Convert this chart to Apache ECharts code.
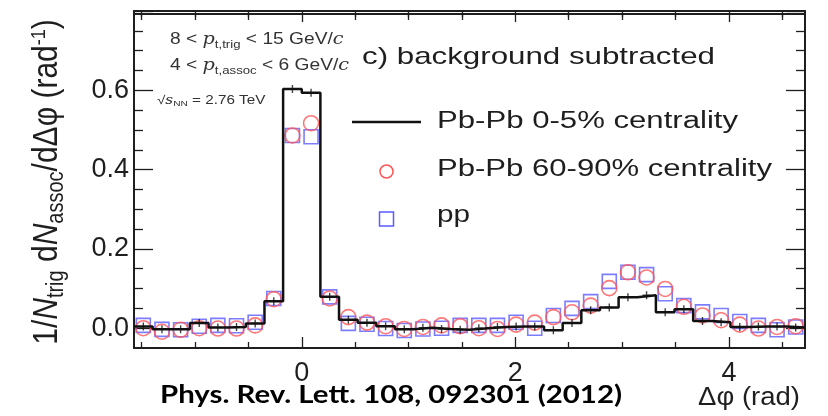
<!DOCTYPE html>
<html><head><meta charset="utf-8">
<script src="https://cdn.jsdelivr.net/npm/echarts@6/dist/echarts.min.js"></script>
<style>html,body{margin:0;padding:0;background:#fff}#c{width:828px;height:416px}</style>
</head><body><div id="c"></div>
<script>
// ---- data (36 bins of Δφ, from -π/2 to 3π/2) ----
const nBins = 36;
const xRangeMin = -Math.PI / 2;
const xRangeMax = 3 * Math.PI / 2;
const central05 = [0.004,-0.003,-0.003,0.013,0.002,0.003,0.012,0.068,0.603,0.594,
  0.079,0.021,0.014,0.005,-0.003,0.001,-0.002,-0.004,0.000,0.003,
  0.004,0.004,-0.005,0.013,0.045,0.052,0.078,0.083,0.040,0.048,
  0.018,0.015,0.003,0.004,0.004,0.002];
const periph6090 = [0.000,-0.009,-0.004,0.000,-0.001,-0.001,0.007,0.073,0.486,0.517,
  0.075,0.028,0.014,0.005,-0.002,0.003,0.007,0.005,0.000,-0.002,
  0.009,0.014,0.028,0.040,0.057,0.101,0.141,0.128,0.099,0.054,
  0.032,0.020,0.009,-0.001,0.003,0.005];
const ppData = [0.007,-0.003,-0.004,0.005,0.007,0.006,0.015,0.075,0.486,0.483,
  0.079,0.012,0.010,-0.001,-0.006,-0.002,0.000,0.007,0.007,0.007,
  0.015,0.000,0.032,0.050,0.067,0.118,0.141,0.135,0.087,0.057,
  0.041,0.032,0.017,0.007,-0.004,0.003];
const xTickLabels = [0, 2, 4];
const yTickLabels = [0, 0.2, 0.4, 0.6];
const legendNames = ['Pb-Pb 0-5% centrality', 'Pb-Pb 60-90% centrality', 'pp'];

// ---- derived ----
const binW = (xRangeMax - xRangeMin) / nBins;
const centers = [], histLine = [];
for (let i = 0; i < nBins; i++) {
  const lo = xRangeMin + i * binW, hi = lo + binW;
  centers.push(lo + binW / 2);
  histLine.push([lo, central05[i]], [hi, central05[i]]);
}
const pts = arr => arr.map((v, i) => [centers[i], v]);
const xMinor = [], yMinor = [];
for (let v = -1.5; v <= 4.6; v += 0.5) { const r = Math.round(v * 10) / 10; if (r % 2 !== 0) xMinor.push(r); }
for (let k = 1; k < 16; k++) { const r = Math.round(k * 5) / 100; if (Math.round(r * 100) % 20 !== 0) yMinor.push(r); }
const yMajorTicks = yTickLabels.concat([0.8]);

const cv = document.createElement('canvas').getContext('2d');
function fit(text, font, w) { cv.font = font; return w / cv.measureText(text).width; }

const AX = '#1e1e1e';
const FF = '"Liberation Sans", Arial, sans-serif';
function xAx(pos, major, withLine, withLabel, offset) {
  return {type: 'value', min: xRangeMin, max: xRangeMax, position: pos, offset: offset || 0,
    axisLine: {show: withLine, onZero: false, lineStyle: {color: AX, width: 2}},
    axisTick: {show: true, inside: true, length: major ? 11 : 6, customValues: major ? xTickLabels : xMinor, lineStyle: {color: AX, width: 1.3}},
    axisLabel: withLabel ? {customValues: xTickLabels, fontSize: 27, fontFamily: FF, color: AX, margin: 12} : {show: false},
    splitLine: {show: false}};
}
function yAx(pos, major, withLine, withLabel) {
  return {type: 'value', min: -0.05, max: 0.8, position: pos,
    axisLine: {show: withLine, onZero: false, lineStyle: {color: AX, width: 2}},
    axisTick: {show: true, inside: true, length: major ? 19 : 9, customValues: major ? yMajorTicks : yMinor, lineStyle: {color: AX, width: 1.3}},
    axisLabel: withLabel ? {customValues: yTickLabels, fontSize: 27, fontFamily: FF, color: AX, margin: 5, formatter: v => v.toFixed(1)} : {show: false},
    splitLine: {show: false}};
}

const chart = echarts.init(document.getElementById('c'), null, {renderer: 'canvas'});
const fLegend = '23px ' + FF;
const fTitle = '24px ' + FF;
const fRef = 'bold 24px Lato, "Open Sans", sans-serif';
const fDphi = '25px ' + FF;

chart.setOption({
  animation: false,
  backgroundColor: '#fff',
  grid: {left: 134, right: 23, top: 11, bottom: 68, containLabel: false},
  xAxis: [xAx('bottom', true, true, true), xAx('bottom', false, false, false), xAx('top', true, true, false), xAx('top', false, false, false), xAx('top', false, true, false, -3)],
  yAxis: [yAx('left', true, true, true), yAx('left', false, false, false), yAx('right', true, true, false), yAx('right', false, false, false)],
  series: [
    {name: legendNames[2], type: 'scatter', data: pts(ppData), symbol: 'rect', symbolSize: 14,
      itemStyle: {color: 'rgba(0,0,0,0)', borderColor: '#5b5bff', borderWidth: 1.6}, z: 2},
    {name: legendNames[1], type: 'scatter', data: pts(periph6090), symbol: 'circle', symbolSize: 15,
      itemStyle: {color: 'rgba(0,0,0,0)', borderColor: '#ff5555', borderWidth: 1.6}, z: 3},
    {name: legendNames[0], type: 'line', data: histLine, showSymbol: false, symbol: 'none',
      lineStyle: {color: '#111', width: 2.5}, z: 4},
    {name: legendNames[0] + ' pts', type: 'scatter', data: pts(central05),
      symbol: 'path://M-0.6,-3.5H0.6V-0.6H3.5V0.6H0.6V3.5H-0.6V0.6H-3.5V-0.6H-0.6Z', symbolSize: 8,
      itemStyle: {color: '#111'}, z: 5}
  ],
  graphic: [
    {type: 'text', x: 47, y: 182, rotation: Math.PI / 2, scaleY: 1.15, z: 10, style: {
      text: '{n|1/}{i|N}{s|trig}{n| d}{i|N}{s|assoc}{n|/dΔφ (rad}{u|-1}{n|)}',
      textAlign: 'center', textVerticalAlign: 'middle', fill: AX,
      rich: {
        n: {fontSize: 30, fontFamily: FF, fill: AX},
        i: {fontSize: 30, fontFamily: FF, fontStyle: 'italic', fill: AX},
        s: {fontSize: 20, fontFamily: FF, fill: AX, padding: [16, 0, 0, 0]},
        u: {fontSize: 18, fontFamily: FF, fill: AX, padding: [0, 0, 14, 0]}
      }}},
    {type: 'text', x: 170, y: 40, scaleX: 1.2, z: 10, style: {
      text: '{n|8 < }{i|p}{s|t,trig}{n| < 15 GeV/}{i|c}', textVerticalAlign: 'middle', fill: '#333',
      rich: {n: {fontSize: 16, fontFamily: FF, fill: '#333'}, i: {fontSize: 16, fontFamily: '"DejaVu Serif", serif', fontStyle: 'italic', fill: '#333'},
        s: {fontSize: 11, fontFamily: FF, fill: '#333', padding: [10, 0, 0, 0]}}}},
    {type: 'text', x: 170, y: 66, scaleX: 1.2, z: 10, style: {
      text: '{n|4 < }{i|p}{s|t,assoc}{n| < 6 GeV/}{i|c}', textVerticalAlign: 'middle', fill: '#333',
      rich: {n: {fontSize: 16, fontFamily: FF, fill: '#333'}, i: {fontSize: 16, fontFamily: '"DejaVu Serif", serif', fontStyle: 'italic', fill: '#333'},
        s: {fontSize: 11, fontFamily: FF, fill: '#333', padding: [10, 0, 0, 0]}}}},
    {type: 'text', x: 157, y: 101, scaleX: 1.27, z: 10, style: {
      text: '{n|√}{i|s}{s|NN}{n| = 2.76 TeV}', textVerticalAlign: 'middle', fill: '#333',
      rich: {n: {fontSize: 12, fontFamily: FF, fill: '#333'}, i: {fontSize: 12, fontFamily: '"DejaVu Serif", serif', fontStyle: 'italic', fill: '#333'},
        s: {fontSize: 8, fontFamily: FF, fill: '#333', padding: [6, 0, 0, 0]}}}},
    {type: 'text', x: 362, y: 57, scaleX: fit('c) background subtracted', fTitle, 353), z: 10,
      style: {text: 'c) background subtracted', font: fTitle, fill: '#1e1e1e', textVerticalAlign: 'middle'}},
    {type: 'line', z: 10, shape: {x1: 352, y1: 122, x2: 421, y2: 122}, style: {stroke: '#111', lineWidth: 2.5}},
    {type: 'circle', z: 10, shape: {cx: 386.5, cy: 171.5, r: 6.5}, style: {fill: 'none', stroke: '#ff5555', lineWidth: 1.5}},
    {type: 'rect', z: 10, shape: {x: 379.5, y: 212, width: 14, height: 14}, style: {fill: 'none', stroke: '#5b5bff', lineWidth: 1.5}},
    {type: 'text', x: 437, y: 122, scaleX: fit(legendNames[0], fLegend, 301), z: 10,
      style: {text: legendNames[0], font: fLegend, fill: '#1e1e1e', textVerticalAlign: 'middle'}},
    {type: 'text', x: 437, y: 170, scaleX: fit(legendNames[1], fLegend, 335), z: 10,
      style: {text: legendNames[1], font: fLegend, fill: '#1e1e1e', textVerticalAlign: 'middle'}},
    {type: 'text', x: 437, y: 216, scaleX: fit(legendNames[2], fLegend, 33), z: 10,
      style: {text: legendNames[2], font: fLegend, fill: '#1e1e1e', textVerticalAlign: 'middle'}},
    {type: 'text', x: 160, y: 395, scaleX: fit('Phys. Rev. Lett. 108, 092301 (2012)', fRef, 462), z: 10,
      style: {text: 'Phys. Rev. Lett. 108, 092301 (2012)', font: fRef, fill: '#000', textVerticalAlign: 'middle'}},
    {type: 'text', x: 698, y: 398, scaleX: fit('Δφ (rad)', fDphi, 102), z: 10,
      style: {text: 'Δφ (rad)', font: fDphi, fill: '#1e1e1e', textVerticalAlign: 'middle'}}
  ]
});
</script></body></html>
